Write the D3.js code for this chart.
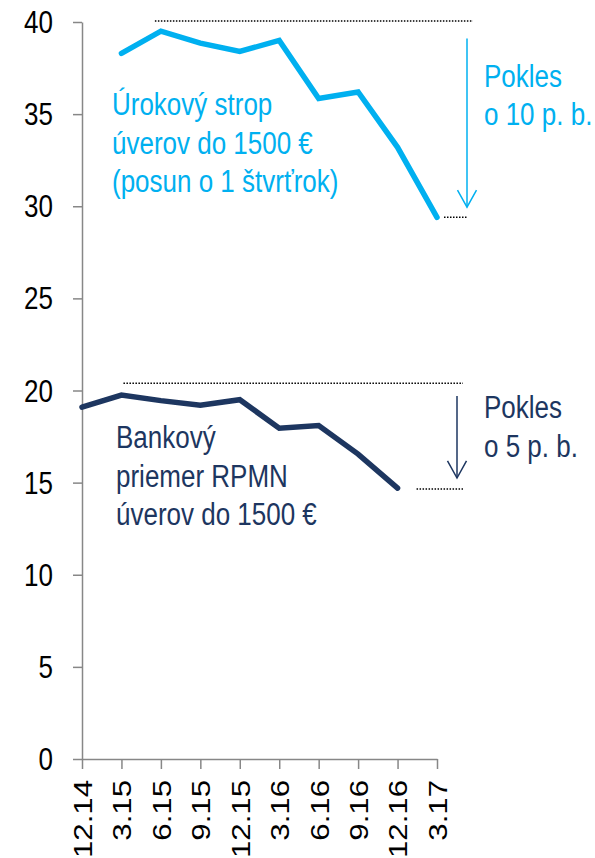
<!DOCTYPE html>
<html>
<head>
<meta charset="utf-8">
<script src="https://cdn.jsdelivr.net/npm/d3@7"></script>
<style>
  body { margin: 0; background: #fff; }
  text { font-family: "Liberation Sans", Arial, sans-serif; }
</style>
</head>
<body>
<div id="chart"></div>
<script>
// data
const categories = ["12.14", "3.15", "6.15", "9.15", "12.15", "3.16", "6.16", "9.16", "12.16", "3.17"];
const strop = [null, 38.3, 39.5, 38.85, 38.4, 39.0, 35.85, 36.2, 33.2, 29.4];
const rpmn = [19.1, 19.75, 19.45, 19.2, 19.5, 17.95, 18.1, 16.55, 14.7, null];
const yTicks = [0, 5, 10, 15, 20, 25, 30, 35, 40];

const lightBlue = "#00B0F0", navy = "#1D3660";
const fs = 26, stretch = 1.2;   // text in the original looks tall

var width = 595, height = 858;

let svg = d3.select("#chart").append("svg")
    .attr("width", width)
    .attr("height", height);

let x = d3.scalePoint().domain(categories).range([82, 437]);
let y = d3.scaleLinear().domain([0, 40]).range([759, 22]);

// y axis
let yAxis = d3.axisLeft(y).tickValues(yTicks).tickSize(9).tickSizeOuter(0).tickPadding(20);
let gy = svg.append("g").attr("transform", "translate(82,0)").call(yAxis);
gy.selectAll("text")
    .attr("transform", "scale(1," + stretch + ")")
    .attr("y", 0)
    .attr("dy", "0.34em");

// x axis
let xAxis = d3.axisBottom(x).tickSize(10).tickSizeOuter(0).tickPadding(0);
let gx = svg.append("g").attr("transform", "translate(0,759)").call(xAxis);
gx.selectAll("text")
    .attr("x", 0).attr("y", 0).attr("dy", "0.36em")
    .attr("text-anchor", "end")
    .attr("transform", "translate(0,21) scale(1," + stretch + ") rotate(-90)");

svg.selectAll(".domain, .tick line").attr("stroke", "#878787").attr("stroke-width", 1.5);
svg.selectAll(".tick text").attr("fill", "#000").style("font-size", fs + "px")
    .style("font-family", '"Liberation Sans", Arial, sans-serif');

// lines
let line = d3.line()
    .defined(d => d.v != null)
    .x(d => x(d.c))
    .y(d => y(d.v));

function series(vals, color) {
    svg.append("path")
        .datum(categories.map((c, i) => ({c: c, v: vals[i]})))
        .attr("d", line)
        .attr("fill", "none")
        .attr("stroke", color)
        .attr("stroke-width", 5.5)
        .attr("stroke-linecap", "round")
        .attr("stroke-linejoin", "miter");
}
series(strop, lightBlue);
series(rpmn, navy);

// dotted reference lines
function dotted(x1, x2, v) {
    svg.append("line")
        .attr("x1", x1).attr("x2", x2)
        .attr("y1", y(v)).attr("y2", y(v))
        .attr("stroke", "#000")
        .attr("stroke-width", 1.5)
        .attr("stroke-dasharray", "1.5,1.5");
}
dotted(x("6.15") - 6, x("3.17") + 36, 40.05);
dotted(x("3.17") + 7, x("3.17") + 30, 29.4);
dotted(x("3.15") + 2, x("3.17") + 26, 20.4);
dotted(x("12.16") + 19, x("3.17") + 26, 14.65);

// arrows
function arrow(ax, v1, v2, color, hw) {
    let y1 = y(v1), y2 = y(v2);
    svg.append("line")
        .attr("x1", ax).attr("x2", ax).attr("y1", y1).attr("y2", y2)
        .attr("stroke", color).attr("stroke-width", 1.5);
    svg.append("path")
        .attr("d", "M" + (ax - hw) + "," + (y2 - hw * 1.8) + "L" + ax + "," + y2 + "L" + (ax + hw) + "," + (y2 - hw * 1.8))
        .attr("fill", "none").attr("stroke", color).attr("stroke-width", 1.5);
}
arrow(467, 39.1, 29.95, lightBlue, 9.5);
arrow(457, 19.7, 15.25, navy, 9.5);

// labels
function label(lines, lx, firstBase, step, color) {
    lines.forEach((t, i) => {
        svg.append("text")
            .attr("transform", "translate(" + lx + "," + (firstBase + i * step) + ") scale(1," + stretch + ")")
            .attr("fill", color)
            .style("font-size", fs + "px")
            .text(t);
    });
}
label(["Úrokový strop", "úverov do 1500 €", "(posun o 1 štvrťrok)"], 112, 115, 38.5, lightBlue);
label(["Pokles", "o 10 p. b."], 484, 87, 38, lightBlue);
label(["Bankový", "priemer RPMN", "úverov do 1500 €"], 116, 448, 38.5, navy);
label(["Pokles", "o 5 p. b."], 484, 418, 38.5, navy);
</script>
</body>
</html>
